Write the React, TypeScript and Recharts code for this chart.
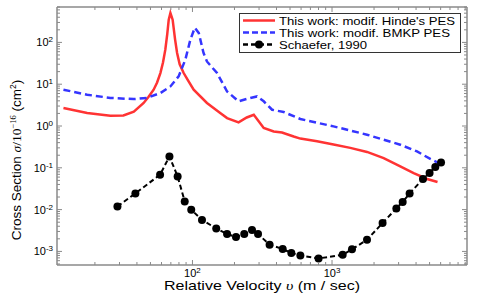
import React from "react";
import { LineChart, Line, XAxis, YAxis, Legend } from "recharts";

// Hinde's PES (red, solid)
const HINDE_V = [11.9, 17.6, 25.8, 32, 38, 44.7, 48.5, 52.7, 55.8, 58.9, 61.5, 63.9, 66, 67.6, 69.5, 72.1, 75, 77.6, 81, 86.5, 92, 102, 127, 158, 177, 214, 245, 275, 324, 382, 438, 531, 593, 781, 1025, 1352, 1781, 2344, 3083, 3845, 4800, 5700];
const HINDE_S = [2.7, 2.05, 1.76, 1.78, 2.2, 3.55, 5, 7.4, 11, 18.5, 33, 67, 160, 350, 505, 350, 120, 56, 30, 18.5, 13, 7.4, 3.55, 2.05, 1.55, 1.22, 1.6, 1.86, 0.9, 0.74, 0.7, 0.56, 0.5, 0.43, 0.36, 0.3, 0.24, 0.171, 0.108, 0.075, 0.054, 0.0457];

// BMKP PES (blue, dashed)
const BMKP_V = [11.9, 17.6, 25.8, 37.9, 47.3, 58.9, 69.5, 79.6, 88.9, 96.6, 104, 111, 120, 127, 150, 177, 214, 260, 290, 324, 372, 450, 593, 1025, 1781, 3083, 4064, 5058, 5800];
const BMKP_S = [7.4, 5.6, 4.7, 4.4, 4.7, 6.15, 8.85, 15.4, 38.5, 116, 225, 168, 56, 35, 18.5, 6.7, 3.9, 4.7, 5.1, 3.9, 2.45, 2.16, 1.47, 0.98, 0.62, 0.357, 0.247, 0.163, 0.13];

// Schaefer, 1990 (black, dashed + dots)
const SCH_V = [29, 39, 58.6, 68.4, 78.3, 88, 98, 117, 148, 177, 205, 235, 267, 295, 357, 443, 511, 593, 801, 1192, 1390, 1781, 2303, 2890, 3207, 3597, 4485, 5000, 5495, 6040];
const SCH_S = [0.0119, 0.0244, 0.0684, 0.187, 0.0622, 0.0157, 0.00996, 0.00564, 0.00355, 0.00261, 0.00221, 0.00261, 0.00325, 0.0026, 0.00145, 0.00114, 0.000916, 0.0008, 0.00068, 0.00083, 0.00112, 0.0019, 0.00478, 0.0107, 0.0152, 0.0244, 0.054, 0.0752, 0.1045, 0.1346];

const X_MAJOR = [100, 1000];
const X_MINOR = [20, 30, 40, 50, 60, 70, 80, 90, 200, 300, 400, 500, 600, 700, 800, 900, 2000, 3000, 4000, 5000, 6000, 7000, 8000, 9000];
const Y_MAJOR = [0.001, 0.01, 0.1, 1, 10, 100];
const Y_MINOR = [
  5e-4, 6e-4, 7e-4, 8e-4, 9e-4,
  2e-3, 3e-3, 4e-3, 5e-3, 6e-3, 7e-3, 8e-3, 9e-3,
  0.02, 0.03, 0.04, 0.05, 0.06, 0.07, 0.08, 0.09,
  0.2, 0.3, 0.4, 0.5, 0.6, 0.7, 0.8, 0.9,
  2, 3, 4, 5, 6, 7, 8, 9,
  20, 30, 40, 50, 60, 70, 80, 90,
  200, 300, 400, 500, 600, 700,
];
const X_EXP: Record<number, string> = { 100: "2", 1000: "3" };
const Y_EXP: Record<number, string> = { 0.001: "-3", 0.01: "-2", 0.1: "-1", 1: "0", 10: "1", 100: "2" };

const X_DOMAIN = [10.7, 9270];
const Y_DOMAIN = [4.73e-4, 703];

const hinde = HINDE_V.map((v, i) => ({ v, s: HINDE_S[i] }));
const bmkp = BMKP_V.map((v, i) => ({ v, s: BMKP_S[i] }));
const schaefer = SCH_V.map((v, i) => ({ v, s: SCH_S[i] }));

const xTicks = [...X_MAJOR, ...X_MINOR].sort((a, b) => a - b);
const yTicks = [...Y_MAJOR, ...Y_MINOR].sort((a, b) => a - b);

const FRAME = "#8a8a8a";
const SANS = "'Liberation Sans', Arial, Helvetica, sans-serif";
const SERIF = "'Liberation Serif', 'DejaVu Serif', serif";
const RED = "#ff3333";
const BLUE = "#3535ff";

const isMajor = (list: number[], v: number) => list.some((m) => Math.abs(m - v) / m < 1e-6);

const BottomTick = (props: any) => {
  const { x, y, payload } = props;
  const major = isMajor(X_MAJOR, payload.value);
  return (
    <g>
      <line x1={x} x2={x} y1={y} y2={y - (major ? 5 : 3)} stroke={FRAME} />
      {major && (
        <text x={x} y={y + 12} textAnchor="middle" fontSize={11} fontFamily={SANS} fill="#000">
          10<tspan dy={-4} fontSize={8}>{X_EXP[payload.value]}</tspan>
        </text>
      )}
    </g>
  );
};

const TopTick = (props: any) => {
  const { x, y, payload } = props;
  const major = isMajor(X_MAJOR, payload.value);
  return <line x1={x} x2={x} y1={y} y2={y + (major ? 5 : 3)} stroke={FRAME} />;
};

const LeftTick = (props: any) => {
  const { x, y, payload } = props;
  const major = isMajor(Y_MAJOR, payload.value);
  const key = Y_MAJOR.find((m) => Math.abs(m - payload.value) / m < 1e-6);
  return (
    <g>
      <line x1={x} x2={x + (major ? 5 : 3)} y1={y} y2={y} stroke={FRAME} />
      {major && key !== undefined && (
        <text x={x - 4} y={y + 4} textAnchor="end" fontSize={11} fontFamily={SANS} fill="#000">
          10<tspan dy={-4} fontSize={8}>{Y_EXP[key]}</tspan>
        </text>
      )}
    </g>
  );
};

const RightTick = (props: any) => {
  const { x, y, payload } = props;
  const major = isMajor(Y_MAJOR, payload.value);
  return <line x1={x} x2={x - (major ? 5 : 3)} y1={y} y2={y} stroke={FRAME} />;
};

const XTitle = (props: any) => {
  const { x, y, width } = props.viewBox;
  return (
    <text
      x={x + width / 2}
      y={y + 25}
      textAnchor="middle"
      fontSize={13.5}
      fontFamily={SANS}
      fill="#000"
      textLength={196}
      lengthAdjust="spacingAndGlyphs"
    >
      Relative Velocity{"  "}
      <tspan fontFamily={SERIF} fontStyle="italic">υ</tspan> (m / sec)
    </text>
  );
};

const YTitle = (props: any) => {
  const { y, height } = props.viewBox;
  const cx = 21;
  const cy = y + height / 2 + 24;
  return (
    <text
      x={cx}
      y={cy}
      transform={`rotate(-90 ${cx} ${cy})`}
      textAnchor="middle"
      fontSize={13.5}
      fontFamily={SANS}
      fill="#000"
    >
      Cross Section{"  "}
      <tspan fontFamily={SERIF} fontStyle="italic">σ</tspan>
      <tspan fontFamily={SERIF}>/10</tspan>
      <tspan dy={-5} fontSize={8.5} fontFamily={SERIF}>−16</tspan>
      <tspan dy={5}> (cm</tspan>
      <tspan dy={-5} fontSize={8.5}>2</tspan>
      <tspan dy={5}>)</tspan>
    </text>
  );
};

const LEGEND_ROWS = [
  { name: "This work: modif. Hinde's PES", color: RED, dash: undefined as string | undefined, dot: false, len: 176 },
  { name: "This work: modif. BMKP PES", color: BLUE, dash: "6 3", dot: false, len: 171 },
  { name: "Schaefer, 1990", color: "#000", dash: "5 3", dot: true, len: 88 },
];

const LegendBox = () => (
  <svg width={222} height={40} style={{ display: "block" }}>
    <rect x={0.5} y={0.5} width={221} height={39} fill="#fff" stroke="#333" />
    {LEGEND_ROWS.map((r, i) => {
      const cy = 7.5 + i * 12;
      return (
        <g key={r.name}>
          <line x1={4} x2={36} y1={cy} y2={cy} stroke={r.color} strokeWidth={2.5} strokeDasharray={r.dash} />
          {r.dot && <circle cx={20} cy={cy} r={4} fill="#000" />}
          <text
            x={40}
            y={cy + 4}
            fontSize={11.5}
            fontFamily={SANS}
            fill="#000"
            textLength={r.len}
            lengthAdjust="spacingAndGlyphs"
          >
            {r.name}
          </text>
        </g>
      );
    })}
  </svg>
);

export default function App() {
  return (
    <div style={{ position: "absolute", left: 0, top: 0, background: "#fff" }}>
      <LineChart width={483} height={299} margin={{ top: 6, right: 15, bottom: 0, left: 0 }}>
        <XAxis
          dataKey="v"
          type="number"
          scale="log"
          domain={X_DOMAIN}
          allowDataOverflow
          ticks={xTicks}
          interval={0}
          tickSize={0}
          tickMargin={0}
          tickLine={false}
          height={34}
          axisLine={{ stroke: FRAME, strokeWidth: 1.5 }}
          tick={BottomTick}
          label={<XTitle />}
        />
        <XAxis
          xAxisId="top"
          orientation="top"
          dataKey="v"
          type="number"
          scale="log"
          domain={X_DOMAIN}
          allowDataOverflow
          ticks={xTicks}
          interval={0}
          tickSize={0}
          tickMargin={0}
          tickLine={false}
          height={1}
          axisLine={{ stroke: FRAME, strokeWidth: 1.5 }}
          tick={TopTick}
        />
        <YAxis
          type="number"
          scale="log"
          domain={Y_DOMAIN}
          allowDataOverflow
          ticks={yTicks}
          interval={0}
          tickSize={0}
          tickMargin={0}
          tickLine={false}
          width={57}
          axisLine={{ stroke: FRAME, strokeWidth: 1.5 }}
          tick={LeftTick}
          label={<YTitle />}
        />
        <YAxis
          yAxisId="right"
          orientation="right"
          type="number"
          scale="log"
          domain={Y_DOMAIN}
          allowDataOverflow
          ticks={yTicks}
          interval={0}
          tickSize={0}
          tickMargin={0}
          tickLine={false}
          width={1}
          axisLine={{ stroke: FRAME, strokeWidth: 1.5 }}
          tick={RightTick}
        />
        <Legend
          layout="vertical"
          align="center"
          verticalAlign="middle"
          wrapperStyle={{ top: 13, left: 239, width: 222 }}
          content={() => <LegendBox />}
        />
        <Line data={hinde} dataKey="s" name="Hinde" type="linear" stroke={RED} strokeWidth={2.5} dot={false} isAnimationActive={false} />
        <Line data={bmkp} dataKey="s" name="BMKP" type="linear" stroke={BLUE} strokeWidth={2.5} strokeDasharray="7 4" dot={false} isAnimationActive={false} />
        <Line
          data={schaefer}
          dataKey="s"
          name="Schaefer"
          type="linear"
          stroke="#000"
          strokeWidth={2}
          strokeDasharray="5 3"
          dot={{ r: 4, fill: "#000", stroke: "#000", strokeWidth: 0, strokeDasharray: "" }}
          isAnimationActive={false}
        />
      </LineChart>
    </div>
  );
}
